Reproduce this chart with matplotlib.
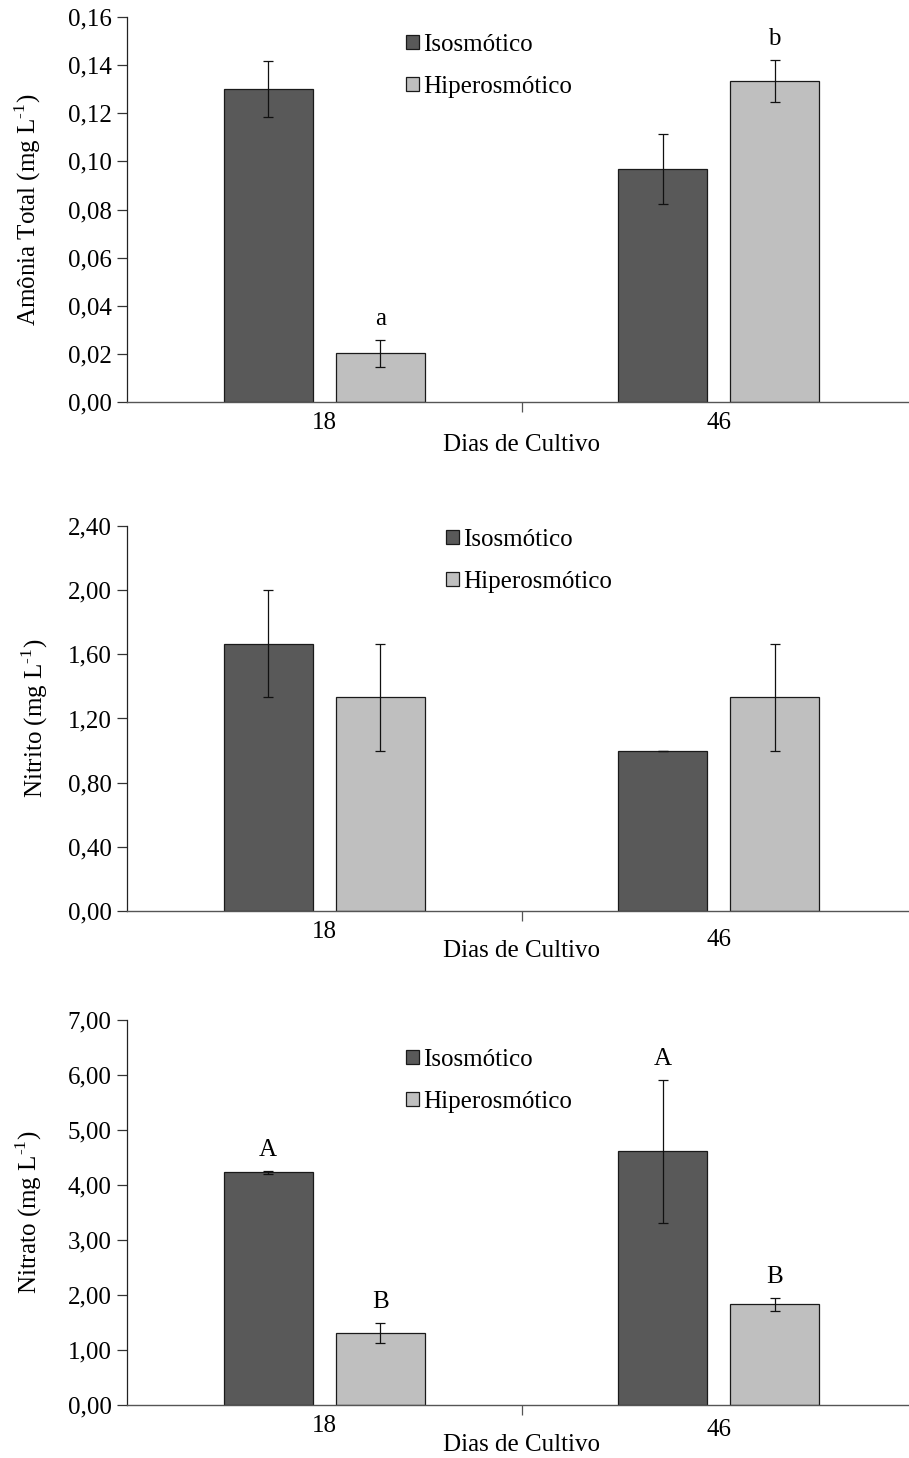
import numpy as np
import matplotlib
matplotlib.use("Agg")
import matplotlib.pyplot as plt
from matplotlib.patches import Patch
from matplotlib.ticker import FuncFormatter

plt.rcParams["font.family"] = ["Liberation Serif", "DejaVu Serif"]
plt.rcParams["mathtext.fontset"] = "custom"
plt.rcParams["mathtext.rm"] = "Liberation Serif"

# data
days = ["18", "46"]
series = ["Isosmótico", "Hiperosmótico"]
colors = ["#595959", "#bfbfbf"]

amonia_iso = [0.130, 0.0967]
amonia_iso_err = [0.0116, 0.0145]
amonia_hip = [0.0202, 0.1334]
amonia_hip_err = [0.0057, 0.0088]
amonia_letters_iso = ["", ""]
amonia_letters_hip = ["a", "b"]

nitrito_iso = [1.667, 1.0]
nitrito_iso_err = [0.333, 0.0]
nitrito_hip = [1.333, 1.333]
nitrito_hip_err = [0.333, 0.333]

nitrato_iso = [4.23, 4.61]
nitrato_iso_err = [0.03, 1.30]
nitrato_hip = [1.31, 1.83]
nitrato_hip_err = [0.19, 0.12]
nitrato_letters_iso = ["A", "A"]
nitrato_letters_hip = ["B", "B"]

W, H = 909, 1458
FS = 18
bar_w = 0.2256
offset = 0.142


def comma_fmt(v, pos):
    return f"{v:.2f}".replace(".", ",")


def panel(top_px, ylim, ystep, ylabel, ylabel_x, iso, iso_err, hip, hip_err,
          letters_iso, letters_hip, legend_xy, tick46_dy, xlabel_dy):
    left, ax_w, ax_h = 127, 789, 385
    ax = fig.add_axes([left / W, 1 - (top_px + ax_h) / H, ax_w / W, ax_h / H])
    x = np.arange(len(days))
    for xs, vals, errs, c in [(x - offset, iso, iso_err, colors[0]),
                              (x + offset, hip, hip_err, colors[1])]:
        ax.bar(xs, vals, width=bar_w, color=c, edgecolor="#1a1a1a", linewidth=0.9, zorder=2)
        ax.errorbar(xs, vals, yerr=errs, fmt="none", ecolor="#111111",
                    elinewidth=0.9, capsize=3.8, capthick=0.9, zorder=3)
    for xs, vals, errs, labs in [(x - offset, iso, iso_err, letters_iso),
                                 (x + offset, hip, hip_err, letters_hip)]:
        for xi, v, e, lab in zip(xs, vals, errs, labs):
            if lab:
                ax.annotate(lab, (xi, v + e), xytext=(0, 15), textcoords="offset points",
                            ha="center", va="center", fontsize=FS)

    ax.set_xlim(-0.5, 1.5)
    ax.set_ylim(*ylim)
    ax.set_yticks(np.arange(ylim[0], ylim[1] + ystep / 2, ystep))
    ax.yaxis.set_major_formatter(FuncFormatter(comma_fmt))
    ax.tick_params(axis="y", direction="out", length=7, width=0.9, labelsize=FS, pad=4,
                   color="#333333")
    ax.set_xticks([])
    ax.set_xticks([0.5], minor=True)
    ax.tick_params(axis="x", which="minor", direction="out", length=7, width=0.9,
                   labelbottom=False, color="#555555")
    for s in ["top", "right"]:
        ax.spines[s].set_visible(False)
    ax.spines["left"].set_linewidth(0.9)
    ax.spines["left"].set_color("#222222")
    ax.spines["bottom"].set_linewidth(1.0)
    ax.spines["bottom"].set_color("#555555")

    tr = ax.get_xaxis_transform()
    ax.text(0, -21 / ax_h, days[0], transform=tr, ha="center", va="center", fontsize=FS)
    ax.text(1, -tick46_dy / ax_h, days[1], transform=tr, ha="center", va="center", fontsize=FS)
    ax.text(0.5, -xlabel_dy / ax_h, "Dias de Cultivo", transform=tr, ha="center",
            va="center", fontsize=FS)
    ax.text((ylabel_x - left) / ax_w, 0.5, ylabel, transform=ax.transAxes, rotation=90,
            ha="center", va="center", fontsize=FS)

    handles = [Patch(facecolor=c, edgecolor="#1a1a1a", linewidth=0.9) for c in colors]
    lx, ly = legend_xy
    ax.legend(handles, series, loc="upper left",
              bbox_to_anchor=((lx - left) / ax_w, (top_px + ax_h - ly) / ax_h),
              frameon=False, fontsize=FS, handlelength=0.5, handleheight=0.5,
              handletextpad=0.2, labelspacing=0.8, borderpad=0, borderaxespad=0)
    return ax


fig = plt.figure(figsize=(W / 100, H / 100), dpi=100)

panel(17, (0, 0.16), 0.02, r"Amônia Total (mg L$^{\text{-1}}$)", 28,
      amonia_iso, amonia_iso_err, amonia_hip, amonia_hip_err,
      amonia_letters_iso, amonia_letters_hip, (406, 34), 21, 43)
panel(526, (0, 2.40), 0.40, r"Nitrito (mg L$^{\text{-1}}$)", 35,
      nitrito_iso, nitrito_iso_err, nitrito_hip, nitrito_hip_err,
      ["", ""], ["", ""], (446, 529), 29, 40)
panel(1020, (0, 7.0), 1.0, r"Nitrato (mg L$^{\text{-1}}$)", 29,
      nitrato_iso, nitrato_iso_err, nitrato_hip, nitrato_hip_err,
      nitrato_letters_iso, nitrato_letters_hip, (406, 1049), 25, 40)

fig.savefig("out.png", dpi=100, facecolor="white")
